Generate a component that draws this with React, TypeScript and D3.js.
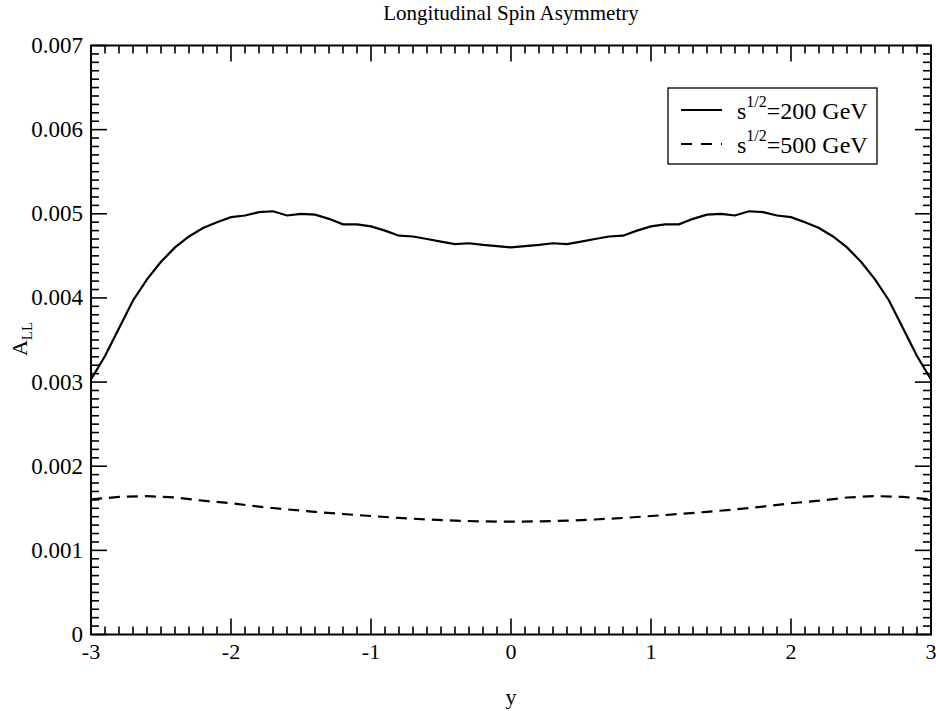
import React from 'react';
import * as d3 from 'd3';

// rapidity grid and asymmetry values (units of 1e-3)
const yGrid200 = [-3.0, -2.9, -2.8, -2.7, -2.6, -2.5, -2.4, -2.3, -2.2, -2.1, -2.0, -1.9, -1.8, -1.7, -1.6, -1.5, -1.4, -1.3, -1.2, -1.1, -1.0, -0.9, -0.8, -0.7, -0.6, -0.5, -0.4, -0.3, -0.2, -0.1, 0.0,
  0.1, 0.2, 0.3, 0.4, 0.5, 0.6, 0.7, 0.8, 0.9, 1.0, 1.1, 1.2, 1.3, 1.4, 1.5, 1.6, 1.7, 1.8, 1.9, 2.0, 2.1, 2.2, 2.3, 2.4, 2.5, 2.6, 2.7, 2.8, 2.9, 3.0];
const all200 = [3.03, 3.31, 3.64, 3.97, 4.22, 4.43, 4.60, 4.73, 4.83, 4.90, 4.96, 4.98, 5.02, 5.03, 4.98, 5.00, 4.99, 4.94, 4.875, 4.875, 4.85, 4.80, 4.74, 4.73, 4.70, 4.67, 4.64, 4.65, 4.63, 4.615, 4.60,
  4.615, 4.63, 4.65, 4.64, 4.67, 4.70, 4.73, 4.74, 4.80, 4.85, 4.875, 4.875, 4.94, 4.99, 5.00, 4.98, 5.03, 5.02, 4.98, 4.96, 4.90, 4.83, 4.73, 4.60, 4.43, 4.22, 3.97, 3.64, 3.31, 3.03];

const yGrid500 = [-3.0, -2.8, -2.6, -2.4, -2.2, -2.0, -1.8, -1.6, -1.4, -1.2, -1.0, -0.8, -0.6, -0.4, -0.2, 0.0,
  0.2, 0.4, 0.6, 0.8, 1.0, 1.2, 1.4, 1.6, 1.8, 2.0, 2.2, 2.4, 2.6, 2.8, 3.0];
const all500 = [1.605, 1.635, 1.645, 1.628, 1.59, 1.56, 1.52, 1.487, 1.458, 1.432, 1.408, 1.385, 1.367, 1.353, 1.344, 1.341,
  1.344, 1.353, 1.367, 1.385, 1.408, 1.432, 1.458, 1.487, 1.52, 1.56, 1.59, 1.628, 1.645, 1.635, 1.605];

const xTickLabels = ['-3', '-2', '-1', '0', '1', '2', '3'];
const yTickLabels = ['0', '0.001', '0.002', '0.003', '0.004', '0.005', '0.006', '0.007'];

const W = 936, H = 711;
const L = 91, R = 931, T = 45.5, B = 634.5;
const FONT = "'Liberation Serif', 'DejaVu Serif', serif";

export default function App() {
  const x = d3.scaleLinear().domain([-3, 3]).range([L, R]);
  const y = d3.scaleLinear().domain([0, 0.007]).range([B, T]);

  const line = d3.line<[number, number]>()
    .x(d => x(d[0]))
    .y(d => y(d[1] * 1e-3));

  const s200 = yGrid200.map((v, i) => [v, all200[i]] as [number, number]);
  const s500 = yGrid500.map((v, i) => [v, all500[i]] as [number, number]);

  const xMinor = d3.range(-30, 31).map(i => i / 10);
  const yMinor = d3.range(0, 71).map(i => i / 10000);

  return (
    <svg width={W} height={H} style={{ position: 'absolute', left: 0, top: 0, background: '#fff', fontFamily: FONT }}>
      <text x={511} y={20} fontSize={21} textAnchor="middle">Longitudinal Spin Asymmetry</text>

      {/* minor / major ticks on all four sides */}
      <g stroke="#000" strokeWidth={1.6}>
        {xMinor.map((v, i) => {
          const len = i % 10 === 0 ? 16 : 8;
          return (
            <g key={'xm' + i}>
              <line x1={x(v)} x2={x(v)} y1={B} y2={B - len} />
              <line x1={x(v)} x2={x(v)} y1={T} y2={T + len} />
            </g>
          );
        })}
        {yMinor.map((v, i) => {
          const len = i % 10 === 0 ? 16 : 8;
          return (
            <g key={'ym' + i}>
              <line x1={L} x2={L + len} y1={y(v)} y2={y(v)} />
              <line x1={R} x2={R - len} y1={y(v)} y2={y(v)} />
            </g>
          );
        })}
      </g>

      <rect x={L} y={T} width={R - L} height={B - T} fill="none" stroke="#000" strokeWidth={2} />

      {xTickLabels.map(t => (
        <text key={t} x={x(+t)} y={659} fontSize={22} textAnchor="middle">{t}</text>
      ))}
      {yTickLabels.map(t => (
        <text key={t} x={83} y={y(+t) + 7.5} fontSize={23} textAnchor="end">{t}</text>
      ))}

      <text x={511} y={704} fontSize={22} textAnchor="middle">y</text>
      <text transform="translate(27,339) rotate(-90)" fontSize={22} textAnchor="middle">
        A<tspan fontSize={15} dy={5}>LL</tspan>
      </text>

      <path d={line(s200) || ''} fill="none" stroke="#000" strokeWidth={2.2} />
      <path d={line(s500) || ''} fill="none" stroke="#000" strokeWidth={2.2} strokeDasharray="11,7" />

      {/* legend */}
      <rect x={668} y={88} width={209} height={76} fill="#fff" stroke="#000" strokeWidth={1.3} />
      <line x1={681} x2={722} y1={110} y2={110} stroke="#000" strokeWidth={2.2} />
      <line x1={681} x2={722} y1={144} y2={144} stroke="#000" strokeWidth={2.2} strokeDasharray="11,9" />
      <text x={737} y={119} fontSize={24}>
        s<tspan fontSize={16} dy={-12}>1/2</tspan><tspan dy={12}>=200 GeV</tspan>
      </text>
      <text x={737} y={153} fontSize={24}>
        s<tspan fontSize={16} dy={-12}>1/2</tspan><tspan dy={12}>=500 GeV</tspan>
      </text>
    </svg>
  );
}
